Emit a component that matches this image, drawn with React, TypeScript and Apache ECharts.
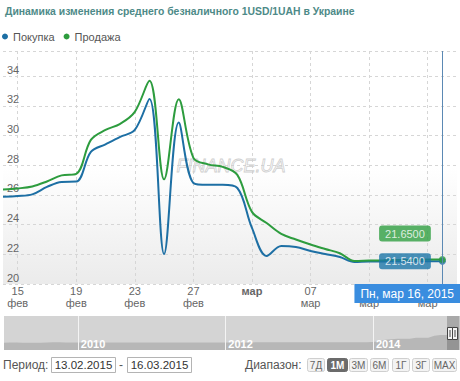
import React, { useEffect, useRef } from "react";
import * as echarts from "echarts";

const TITLE = "Динамика изменения среднего безналичного 1USD/1UAH в Украине";
const SERIES_NAMES = ["Покупка", "Продажа"];

// Daily categories 14.02.2015 .. 17.03.2015
const categories = [
  "14.02", "15.02", "16.02", "17.02", "18.02", "19.02", "20.02", "21.02",
  "22.02", "23.02", "24.02", "25.02", "26.02", "27.02", "28.02", "01.03",
  "02.03", "03.03", "04.03", "05.03", "06.03", "07.03", "08.03", "09.03",
  "10.03", "11.03", "12.03", "13.03", "14.03", "15.03", "16.03", "17.03",
];

const buyValues = [
  25.88, 25.93, 26.04, 26.54, 26.88, 26.9, 28.9, 29.41, 29.91, 30.38,
  32.47, 22.02, 30.88, 26.81, 26.68, 26.68, 26.47, 23.78, 21.89, 22.56,
  22.49, 22.23, 22.02, 21.82, 21.48, 21.52, 21.52, 21.53, 21.53, 21.54, 21.54,
];

const sellValues = [
  26.37, 26.44, 26.57, 26.91, 27.32, 27.42, 29.71, 30.38, 30.79, 31.6,
  33.69, 27.05, 32.45, 28.5, 28.06, 27.89, 27.35, 24.86, 24.11, 23.37,
  23.0, 22.66, 22.36, 22.07, 21.55, 21.58, 21.6, 21.62, 21.63, 21.65, 21.65,
];

const xTickIndex = [1, 5, 9, 13, 17, 21, 25, 29];
const xTickLabels = ["15\nфев", "19\nфев", "23\nфев", "27\nфев", "{b|мар}", "07\nмар", "11\nмар", "15\nмар"];
const crosshairLabel = "Пн, мар 16, 2015";

// Navigator (monthly, Jan 2009 .. Mar 2015)
const navMonths = [
  "2009-01","2009-02","2009-03","2009-04","2009-05","2009-06","2009-07","2009-08","2009-09","2009-10","2009-11","2009-12",
  "2010-01","2010-02","2010-03","2010-04","2010-05","2010-06","2010-07","2010-08","2010-09","2010-10","2010-11","2010-12",
  "2011-01","2011-02","2011-03","2011-04","2011-05","2011-06","2011-07","2011-08","2011-09","2011-10","2011-11","2011-12",
  "2012-01","2012-02","2012-03","2012-04","2012-05","2012-06","2012-07","2012-08","2012-09","2012-10","2012-11","2012-12",
  "2013-01","2013-02","2013-03","2013-04","2013-05","2013-06","2013-07","2013-08","2013-09","2013-10","2013-11","2013-12",
  "2014-01","2014-02","2014-03","2014-04","2014-05","2014-06","2014-07","2014-08","2014-09","2014-10","2014-11","2014-12",
  "2015-01","2015-02","2015-03",
];
const navValues = [
  7.7, 8.0, 7.9, 7.7, 7.6, 7.7, 7.7, 8.0, 8.1, 8.1, 8.0, 8.0,
  8.0, 7.95, 7.95, 7.92, 7.92, 7.91, 7.91, 7.91, 7.92, 7.92, 7.93, 7.93,
  7.94, 7.94, 7.95, 7.97, 7.98, 7.98, 7.98, 7.99, 8.0, 8.0, 8.0, 8.0,
  8.0, 8.0, 8.0, 8.0, 8.05, 8.1, 8.1, 8.1, 8.1, 8.13, 8.14, 8.14,
  8.14, 8.14, 8.14, 8.15, 8.15, 8.15, 8.15, 8.15, 8.15, 8.2, 8.25, 8.25,
  8.5, 9.2, 10.9, 11.5, 11.8, 11.8, 11.9, 13.0, 13.0, 13.0, 15.0, 15.8,
  16.0, 25.0, 23.5,
];
const navYearIndex = [12, 36, 60];
const navYearLabels = ["2010", "2012", "2014"];

const periodFrom = "13.02.2015";
const periodTo = "16.03.2015";
const rangeButtons = ["7Д", "1М", "3М", "6М", "1Г", "3Г", "MAX"];
const selectedRange = "1М";

const BLUE = "#1d6fa4";
const GREEN = "#2d9c3e";
const FONT = "'Liberation Sans', Arial, sans-serif";

export default function App() {
  const ref = useRef<HTMLDivElement>(null);

  useEffect(() => {
    if (!ref.current) return;
    const chart = echarts.init(ref.current, null, { renderer: "svg" });
    const last = buyValues.length - 1;

    const btnX = [307, 327, 349, 370, 392, 412, 432];
    const btnW = [17, 20, 18, 18, 17, 17, 24];
    const buttons: any[] = [];
    rangeButtons.forEach((b, i) => {
      const sel = b === selectedRange;
      buttons.push({
        type: "rect",
        shape: { x: btnX[i] + 0.5, y: 358.5, width: btnW[i], height: 13, r: 2 },
        style: { fill: sel ? "#6b6b6b" : "#f3f3f3", stroke: sel ? "#6b6b6b" : "#cfcfcf", lineWidth: 1 },
      });
      buttons.push({
        type: "text",
        x: btnX[i] + 0.5 + btnW[i] / 2,
        y: 365,
        style: {
          text: b, align: "center", verticalAlign: "middle",
          fontSize: 10, fontFamily: FONT, fontWeight: sel ? "bold" : "normal",
          fill: sel ? "#fff" : "#666",
        },
      });
    });

    const option: any = {
      animation: false,
      textStyle: { fontFamily: FONT },
      title: {
        text: TITLE, left: 0, top: 1,
        textStyle: { fontSize: 10.4, fontWeight: "bold", color: "#4d8a88", fontFamily: FONT },
      },
      legend: {
        data: SERIES_NAMES, left: 2, top: 31, padding: 0,
        icon: "circle", itemWidth: 6, itemHeight: 6, itemGap: 9,
        textStyle: { fontSize: 11, color: "#555", fontFamily: FONT },
      },
      grid: [
        {
          left: 3, right: 3, top: 51, bottom: 97, show: true, borderWidth: 0,
          backgroundColor: new echarts.graphic.LinearGradient(0, 0, 0, 1, [
            { offset: 0, color: "#ffffff" },
            { offset: 0.5, color: "#ffffff" },
            { offset: 1, color: "#ebebeb" },
          ]),
        },
        { left: 4, right: 1, top: 316, height: 34, show: true, borderWidth: 0, backgroundColor: "#d4d4d4" },
      ],
      xAxis: [
        {
          type: "category", data: categories, boundaryGap: false, gridIndex: 0,
          axisLine: { show: false }, axisTick: { show: false },
          axisLabel: {
            interval: (i: number) => xTickIndex.includes(i),
            formatter: (_v: string, i: number) => {
              const k = xTickIndex.indexOf(i);
              return k >= 0 ? xTickLabels[k] : "";
            },
            color: "#666", fontSize: 11, lineHeight: 12, margin: 1,
            rich: { b: { fontWeight: "bold", color: "#666", fontSize: 11 } },
          },
          splitLine: {
            show: true, interval: (i: number) => xTickIndex.includes(i),
            lineStyle: { color: "#d6d6d6", type: [3, 3], width: 1 },
          },
          axisPointer: {
            show: true, status: "show", value: last, type: "line", snap: false,
            triggerTooltip: false,
            lineStyle: { color: "#5b89b4", width: 1, type: "solid" },
            label: {
              show: true, formatter: () => crosshairLabel,
              backgroundColor: "#3a8ddf", color: "#fff", padding: [4, 6, 3, 6],
              fontSize: 12, fontFamily: FONT, margin: 0, borderRadius: 0,
              shadowBlur: 0,
            },
            handle: { show: false },
          },
        },
        {
          type: "category", data: navMonths, boundaryGap: false, gridIndex: 1, z: 5,
          axisLine: { show: false }, axisTick: { show: false },
          axisLabel: {
            inside: true,
            interval: (i: number) => navYearIndex.includes(i),
            formatter: (_v: string, i: number) => {
              const k = navYearIndex.indexOf(i);
              return k >= 0 ? navYearLabels[k] : "";
            },
            align: "left", padding: [0, 0, 0, 3], margin: 1,
            color: "#fff", fontWeight: "bold", fontSize: 11,
          },
          splitLine: {
            show: true, interval: (i: number) => navYearIndex.includes(i),
            lineStyle: { color: "#f4f4f4", width: 1 },
          },
        },
      ],
      yAxis: [
        {
          type: "value", min: 20, max: 35.7, interval: 2, gridIndex: 0,
          axisLine: { show: false }, axisTick: { show: false },
          axisLabel: {
            inside: true, margin: 4, verticalAlign: "bottom", align: "left",
            color: "#666", fontSize: 11, padding: [0, 0, 1, 0],
            showMaxLabel: false,
            formatter: (v: number) => (v % 2 === 0 ? String(v) : ""),
          },
          splitLine: { show: true, lineStyle: { color: "#d6d6d6", type: [3, 3], width: 1 } },
        },
        {
          type: "value", min: 0, max: 36, gridIndex: 1, show: false,
          splitLine: { show: false },
        },
      ],
      series: [
        {
          name: SERIES_NAMES[0], type: "line", data: buyValues, smooth: 0.35,
          showSymbol: false, color: BLUE, lineStyle: { width: 2, color: BLUE }, z: 2,
        },
        {
          name: SERIES_NAMES[1], type: "line", data: sellValues, smooth: 0.35,
          showSymbol: false, color: GREEN, lineStyle: { width: 2, color: GREEN }, z: 3,
        },
        {
          name: "last", type: "scatter", z: 10, symbol: "circle", symbolSize: 7,
          data: [
            {
              value: [last, buyValues[last]],
              itemStyle: { color: BLUE },
              label: {
                show: true, position: "left", distance: 8,
                formatter: buyValues[last].toFixed(4),
                backgroundColor: "#1b76a8", color: "#fff", padding: [3, 6, 2, 6],
                borderRadius: 3, fontSize: 11, fontFamily: FONT,
              },
            },
            {
              value: [last, sellValues[last]],
              itemStyle: { color: GREEN },
              label: {
                show: true, position: "left", distance: 8, offset: [0, -26],
                formatter: sellValues[last].toFixed(4),
                backgroundColor: "#2f9f41", color: "#fff", padding: [3, 6, 2, 6],
                borderRadius: 3, fontSize: 11, fontFamily: FONT,
              },
            },
          ],
        },
        {
          name: "nav", type: "line", xAxisIndex: 1, yAxisIndex: 1, data: navValues,
          showSymbol: false, lineStyle: { width: 0 }, silent: true, z: 1,
          areaStyle: { color: "#b7b7b7", opacity: 1 }, color: "#b7b7b7",
        },
      ],
      graphic: [
        {
          type: "text", x: 231, y: 166, z: 1, silent: true,
          style: {
            text: "FINANCE.UA", align: "center", verticalAlign: "middle",
            fontSize: 18, fontStyle: "italic", fontFamily: FONT,
            fill: "rgba(0,0,0,0)", stroke: "#cfcfcf", lineWidth: 0.8,
          },
        },
        {
          type: "rect", z: 5, shape: { x: 447, y: 316, width: 13, height: 34 },
          style: { fill: "rgba(70,70,70,0.3)" },
        },
        {
          type: "rect", z: 6, shape: { x: 447.5, y: 327.5, width: 5, height: 12 },
          style: { fill: "#f4f4f4", stroke: "#444", lineWidth: 1 },
        },
        {
          type: "rect", z: 6, shape: { x: 452.5, y: 327.5, width: 5, height: 12 },
          style: { fill: "#f4f4f4", stroke: "#444", lineWidth: 1 },
        },
        { type: "line", z: 7, shape: { x1: 450, y1: 330, x2: 450, y2: 337 }, style: { stroke: "#444", lineWidth: 1 } },
        { type: "line", z: 7, shape: { x1: 455, y1: 330, x2: 455, y2: 337 }, style: { stroke: "#444", lineWidth: 1 } },
        {
          type: "text", x: 3, y: 365,
          style: { text: "Период:", verticalAlign: "middle", fontSize: 12, fontFamily: FONT, fill: "#555" },
        },
        {
          type: "rect", shape: { x: 51.5, y: 357.5, width: 64, height: 15 },
          style: { fill: "#fff", stroke: "#b4b4b4", lineWidth: 1 },
        },
        {
          type: "text", x: 83.5, y: 365,
          style: { text: periodFrom, align: "center", verticalAlign: "middle", fontSize: 11.5, fontFamily: FONT, fill: "#333" },
        },
        {
          type: "text", x: 121, y: 365,
          style: { text: "-", align: "center", verticalAlign: "middle", fontSize: 12, fontFamily: FONT, fill: "#555" },
        },
        {
          type: "rect", shape: { x: 127.5, y: 357.5, width: 64, height: 15 },
          style: { fill: "#fff", stroke: "#b4b4b4", lineWidth: 1 },
        },
        {
          type: "text", x: 159.5, y: 365,
          style: { text: periodTo, align: "center", verticalAlign: "middle", fontSize: 11.5, fontFamily: FONT, fill: "#333" },
        },
        {
          type: "text", x: 245, y: 365,
          style: { text: "Диапазон:", verticalAlign: "middle", fontSize: 12, fontFamily: FONT, fill: "#555" },
        },
        ...buttons,
      ],
    };

    chart.setOption(option);
    return () => chart.dispose();
  }, []);

  return <div ref={ref} style={{ width: 460, height: 381, position: "absolute", left: 0, top: 0 }} />;
}
